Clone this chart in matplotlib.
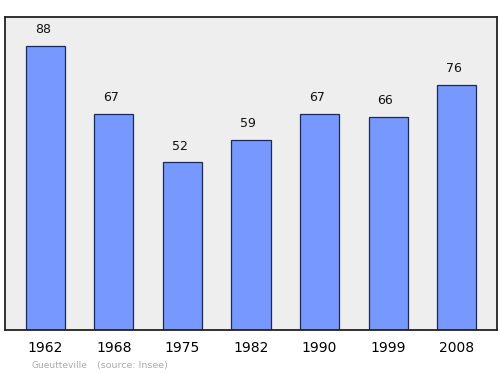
import matplotlib
matplotlib.use('Agg')
import matplotlib.pyplot as plt
import numpy as np

years = ['1962', '1968', '1975', '1982', '1990', '1999', '2008']
population = [88, 67, 52, 59, 67, 66, 76]
town = 'Gueutteville'
source = '(source: Insee)'


def main():
    x = np.arange(len(years))

    fig = plt.figure(figsize=(5, 3.74), dpi=100)
    ax = fig.add_axes([0.01, 1 - 330 / 374, 0.984, 313 / 374])
    ax.set_facecolor('#eeeeee')

    ax.bar(x, population, 0.57, color='#7799ff', edgecolor='#1a2a55', linewidth=0.9)
    for xi, v in zip(x, population):
        ax.text(xi - 0.04, v + 3.0, str(v), ha='center', va='bottom', fontsize=9, color='#111111')

    ax.set_xlim(-0.59, 6.59)
    ax.set_ylim(0, 97)
    ax.set_xticks(x, years)
    ax.tick_params(axis='x', length=0, labelsize=10, pad=8)
    ax.set_yticks([])
    for s in ax.spines.values():
        s.set_linewidth(1.3)
        s.set_color('#222222')

    fig.text(31 / 500, 1 - 368 / 374, town, fontsize=6.5, color='#aaaaaa', va='baseline')
    fig.text(97 / 500, 1 - 368 / 374, source, fontsize=6.8, color='#aaaaaa', va='baseline')

    fig.savefig('out.png', dpi=100)


if __name__ == '__main__':
    main()
